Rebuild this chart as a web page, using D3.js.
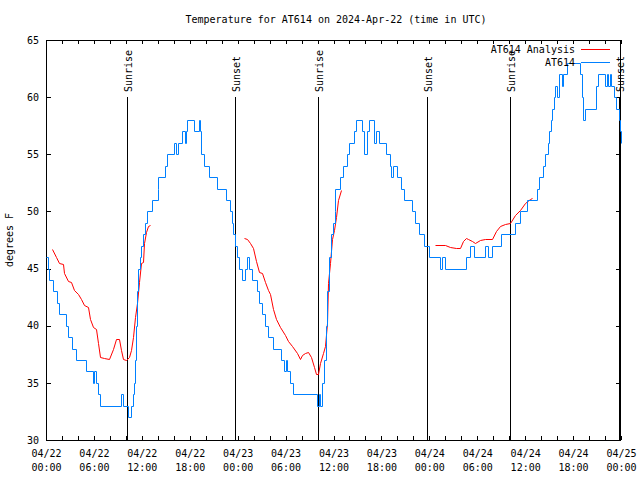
<!DOCTYPE html>
<html>
<head>
<meta charset="utf-8">
<script src="https://cdn.jsdelivr.net/npm/d3@7"></script>
<style>
  html, body { margin: 0; padding: 0; background: #fff; }
  svg { display: block; }
  text { font-family: "DejaVu Sans Mono", "Liberation Mono", monospace; font-size: 10px; fill: #000; }
</style>
</head>
<body>
<svg id="chart" width="640" height="480"></svg>
<script>
// ---------------- DATA ----------------
const titleText = "Temperature for AT614 on 2024-Apr-22 (time in UTC)";
const yLabelText = "degrees F";
const startDate = "2024-04-22T00:00:00Z";
const endDate = "2024-04-25T00:00:00Z";
const yTicks = [30, 35, 40, 45, 50, 55, 60, 65];

// Observations (hours since 04/22 00:00 UTC, °F) - step changes
const blueHours = [0.0,0.3,0.42,0.83,1.33,1.6,2.5,2.8,3.25,3.75,4.95,5.85,6.05,6.3,6.5,6.75,9.4,9.65,10.25,10.65,10.85,11.0,11.1,11.25,11.4,11.55,11.75,11.9,12.2,12.35,12.6,13.3,14.0,14.05,14.95,15.1,16.05,16.3,16.5,17.0,17.45,17.5,17.7,18.5,19.2,19.3,19.4,19.8,20.4,21.45,22.5,23.0,23.25,23.46,23.67,23.87,24.2,24.5,24.9,25.2,25.46,25.84,26.4,26.7,27.0,27.4,27.84,28.47,29.38,29.8,30.05,30.2,30.55,30.97,33.89,34.14,34.31,34.56,34.81,35.02,35.23,35.44,35.69,35.98,36.15,36.23,36.81,37.15,37.73,37.94,38.57,38.82,39.53,39.82,40.24,40.49,41.07,41.32,41.74,42.57,43.07,43.24,43.41,43.99,44.41,44.83,45.79,46.2,46.7,47.3,47.9,49.3,49.55,49.95,52.65,53.1,53.55,55.0,55.3,55.8,56.95,58.75,59.3,60.2,61.5,61.7,62.2,62.5,62.8,63.0,63.2,63.4,63.55,63.75,64.0,64.2,64.55,64.75,65.3,66.9,67.1,67.3,67.55,68.85,69.1,70.0,70.2,70.4,70.6,70.75,71.1,71.4,71.7,71.85,72.0];
const blueTemps = [46,45,44,43,42,41,40,39,38,37,36,35,36,35,34,33,34,33,32,33,34,35,37,40,43,45,46,47,48,49,50,51,52,53,54,55,56,55,56,57,56,57,58,57,58,57,55,54,53,52,51,50,49,48,47,46,45,44,45,46,45,44,43,42,41,40,39,38,37,36,37,36,35,34,33,34,33,35,37,40,43,46,48,49,50,52,53,54,55,56,57,58,57,55,57,58,56,57,56,55,54,53,54,53,52,51,50,49,48,47,46,45,46,45,46,47,46,47,46,47,48,49,50,51,52,53,54,55,56,57,58,59,60,61,60,62,61,62,63,62,60,58,59,61,62,61,62,61,62,61,60,59,58,57,56];

// Analysis (hours, °F); null marks a gap between analysis runs
const redHours = [0.75,1.25,1.67,2.1,2.3,2.7,3.1,3.55,4.0,4.4,4.8,5.2,5.5,5.85,6.2,6.5,6.8,7.3,7.9,8.35,8.8,9.1,9.4,9.7,10.0,10.35,10.65,10.95,11.2,11.35,11.6,11.9,12.1,12.3,12.5,12.75,13.0,
  18.0,
  24.8,25.2,25.5,25.95,26.3,26.7,27.0,27.4,27.8,28.05,28.4,28.8,29.3,29.9,30.35,30.8,31.4,31.8,32.0,32.4,32.85,33.15,33.5,33.8,34.1,34.3,34.65,34.95,35.15,35.35,35.55,35.8,36.05,36.3,36.6,36.9,
  42.0,
  48.7,50.0,50.6,51.4,51.85,52.25,52.6,52.9,53.3,53.7,54.3,55.0,55.8,56.4,56.85,57.5,58.1,58.7,59.35,60.0,60.6,60.9];
const redTemps = [46.7,46.0,45.5,45.4,44.6,43.9,43.8,43.1,42.8,42.3,41.8,41.6,40.6,39.9,39.7,38.5,37.3,37.2,37.1,38.0,38.8,38.8,37.9,37.1,37.0,37.3,37.9,39.0,40.8,42.0,43.8,45.5,45.6,47.2,48.2,48.7,48.8,
  null,
  47.7,47.6,47.2,46.8,45.7,44.7,44.6,43.8,43.1,42.8,41.5,40.6,39.9,39.2,38.7,38.2,37.6,37.1,37.4,37.6,37.7,37.3,36.4,35.8,35.8,36.7,37.6,38.2,40.2,43.7,45.5,47.6,48.4,49.5,51.0,51.9,
  null,
  47.1,47.1,46.9,46.8,46.8,47.4,47.7,47.6,47.4,47.2,47.5,47.6,47.6,48.3,48.7,48.9,49.0,49.7,50.1,50.7,51.1,51.2];

const eventHours = [10.14, 23.67, 34.09, 47.67, 58.15, 71.7];
const eventLabels = ["Sunrise", "Sunset", "Sunrise", "Sunset", "Sunrise", "Sunset"];
const eventTopTemp = 60;

const seriesNames = ["AT614 Analysis", "AT614"];
const seriesColors = ["#ff0000", "#0080ff"];

// ---------------- CHART ----------------
const W = 640, H = 480;
const m = { left: 46, right: 19, top: 40, bottom: 40 };
const svg = d3.select("#chart");
const t0 = new Date(startDate), t1 = new Date(endDate);
const hr = h => new Date(t0.getTime() + h * 3600e3);

const x = d3.scaleUtc().domain([t0, t1]).range([m.left, W - m.right]);
const y = d3.scaleLinear().domain([30, 65]).range([H - m.bottom, m.top]);
const px = v => Math.round(v) + 0.5;

const plot = svg.append("g");

// Border
plot.append("rect")
  .attr("x", m.left + 0.5).attr("y", m.top + 0.5)
  .attr("width", W - m.right - m.left - 1).attr("height", H - m.bottom - m.top)
  .attr("fill", "none").attr("stroke", "#000").attr("shape-rendering", "crispEdges");

const xTickVals = d3.utcHour.every(2).range(t0, new Date(t1.getTime() + 1));
const fmtDate = d3.utcFormat("%m/%d"), fmtTime = d3.utcFormat("%H:%M");

// Bottom axis
const gx = plot.append("g").attr("transform", `translate(0,${H - m.bottom})`)
  .call(d3.axisBottom(x).tickValues(xTickVals).tickSizeInner(-4).tickSizeOuter(0).tickFormat(() => ""));
gx.select(".domain").remove();
gx.selectAll("line").attr("shape-rendering", "crispEdges");
gx.selectAll(".tick").each(function(d) {
  if (d.getUTCHours() % 6 !== 0) return;
  const t = d3.select(this).select("text").text(null).attr("y", 0).attr("dy", null);
  t.append("tspan").attr("x", 0).attr("y", 17).text(fmtDate(d));
  t.append("tspan").attr("x", 0).attr("y", 31).text(fmtTime(d));
});

// Top axis (ticks only)
const gxt = plot.append("g").attr("transform", `translate(0,${m.top})`)
  .call(d3.axisTop(x).tickValues(xTickVals).tickSizeInner(-4).tickSizeOuter(0).tickFormat(() => ""));
gxt.select(".domain").remove();
gxt.selectAll("line").attr("shape-rendering", "crispEdges");

// Left axis
const gy = plot.append("g").attr("transform", `translate(${m.left},0)`)
  .call(d3.axisLeft(y).tickValues(yTicks).tickSizeInner(-5).tickSizeOuter(0).tickPadding(7).tickFormat(d3.format("d")));
gy.select(".domain").remove();
gy.selectAll("line").attr("shape-rendering", "crispEdges");

// Right axis (ticks only)
const gyr = plot.append("g").attr("transform", `translate(${W - m.right},0)`)
  .call(d3.axisRight(y).tickValues(yTicks).tickSizeInner(-5).tickSizeOuter(0).tickFormat(() => ""));
gyr.select(".domain").remove();
gyr.selectAll("line").attr("shape-rendering", "crispEdges");

[gx, gxt, gy].forEach(g => g.selectAll("text").style("font-size", "10px").style("font-family", '"DejaVu Sans Mono", monospace'));

// Sunrise / sunset lines
const ev = plot.append("g").selectAll("g").data(eventHours.map((h, i) => ({ t: hr(h), label: eventLabels[i] })))
  .join("g");
ev.append("line")
  .attr("x1", d => px(x(d.t))).attr("x2", d => px(x(d.t)))
  .attr("y1", Math.round(y(eventTopTemp))).attr("y2", y(30))
  .attr("stroke", "#000");
ev.append("text")
  .attr("transform", d => `translate(${Math.round(x(d.t)) + 4.5},${Math.round(y(eventTopTemp)) - 5}) rotate(-90)`)
  .attr("text-anchor", "start")
  .text(d => d.label);

// Series
const blueData = blueHours.map((h, i) => ({ t: hr(h), v: blueTemps[i] }));
const redData = redHours.map((h, i) => ({ t: hr(h), v: redTemps[i] }));

plot.append("path").datum(redData)
  .attr("fill", "none").attr("stroke", seriesColors[0]).attr("stroke-width", 1)
  .attr("d", d3.line().defined(d => d.v != null).x(d => px(x(d.t))).y(d => px(y(d.v))));

plot.append("path").datum(blueData)
  .attr("fill", "none").attr("stroke", seriesColors[1]).attr("stroke-width", 1)
  .attr("d", d3.line().curve(d3.curveStepAfter).x(d => px(x(d.t))).y(d => px(y(d.v))));

// Legend
const leg = svg.append("g");
const legY = [49.5, 62.5];
seriesNames.forEach((name, i) => {
  leg.append("text").attr("x", 575).attr("y", legY[i] + 3.5).attr("text-anchor", "end").text(name);
  leg.append("line").attr("x1", 581).attr("x2", 610).attr("y1", legY[i]).attr("y2", legY[i])
    .attr("stroke", seriesColors[i]);
});

// Title & y label
svg.append("text").attr("x", W / 2 + 16).attr("y", 23).attr("text-anchor", "middle").text(titleText);
svg.append("text").attr("transform", `translate(13,${(m.top + H - m.bottom) / 2}) rotate(-90)`)
  .attr("text-anchor", "middle").text(yLabelText);
</script>
</body>
</html>
